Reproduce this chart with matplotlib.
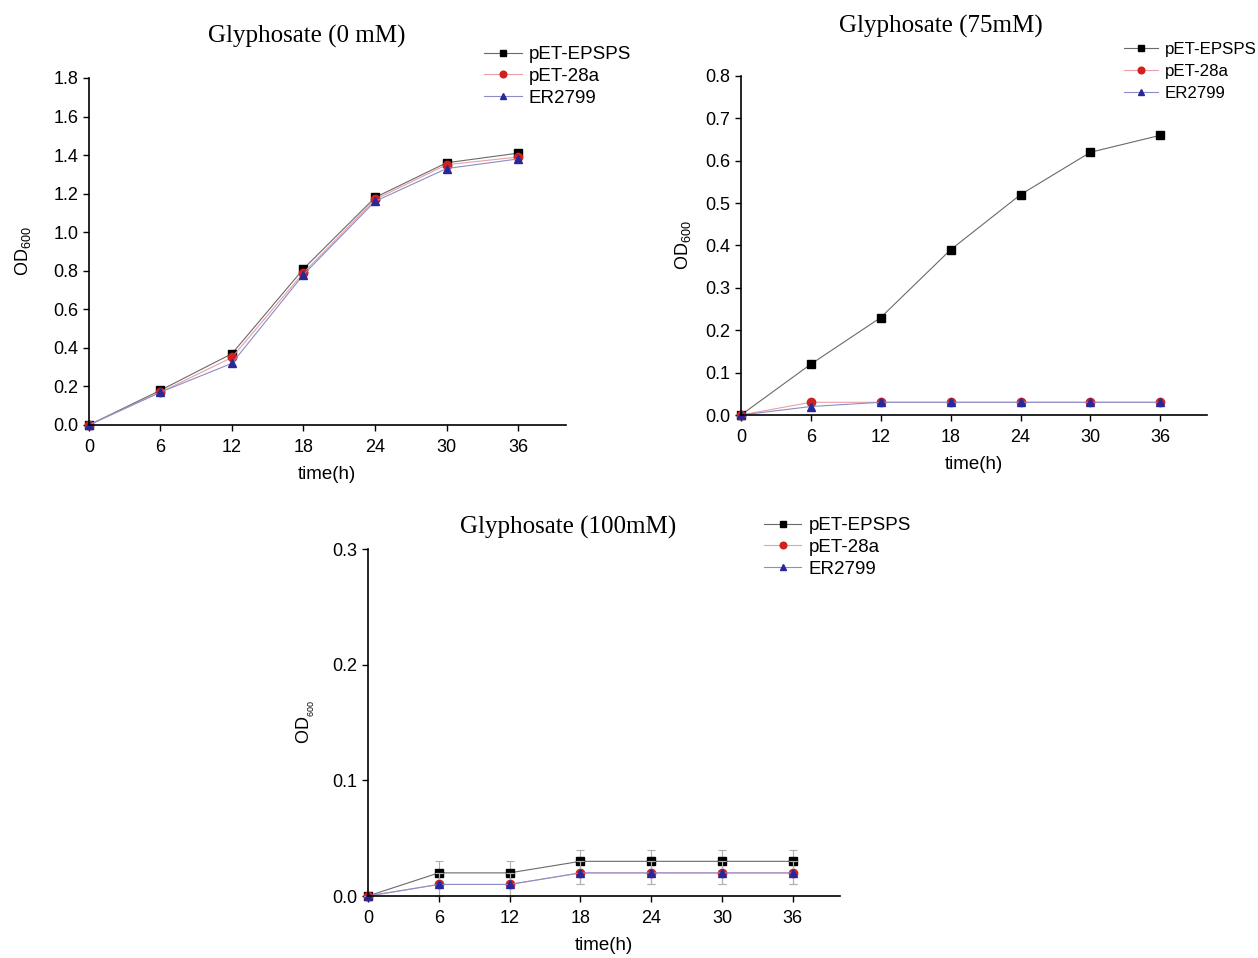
import matplotlib
matplotlib.use("Agg")
import matplotlib.pyplot as plt

plt.rcParams['font.family'] = ['Liberation Sans', 'DejaVu Sans']
plt.rcParams['mathtext.fontset'] = 'custom'
plt.rcParams['mathtext.rm'] = 'Liberation Sans'
plt.rcParams['mathtext.it'] = 'Liberation Sans:italic'
plt.rcParams['mathtext.bf'] = 'Liberation Sans:bold'

# time points (h)
time_h = [0, 6, 12, 18, 24, 30, 36]
series_names = ['pET-EPSPS', 'pET-28a', 'ER2799']

# Glyphosate 0 mM
od_0mM_epsps = [0, 0.18, 0.37, 0.81, 1.18, 1.36, 1.41]
od_0mM_28a = [0, 0.17, 0.35, 0.79, 1.17, 1.35, 1.39]
od_0mM_er = [0, 0.17, 0.32, 0.78, 1.16, 1.33, 1.38]

# Glyphosate 75 mM
od_75mM_epsps = [0, 0.12, 0.23, 0.39, 0.52, 0.62, 0.66]
od_75mM_28a = [0, 0.03, 0.03, 0.03, 0.03, 0.03, 0.03]
od_75mM_er = [0, 0.02, 0.03, 0.03, 0.03, 0.03, 0.03]

# Glyphosate 100 mM (with error bars)
od_100mM_epsps = [0, 0.02, 0.02, 0.03, 0.03, 0.03, 0.03]
od_100mM_28a = [0, 0.01, 0.01, 0.02, 0.02, 0.02, 0.02]
od_100mM_er = [0, 0.01, 0.01, 0.02, 0.02, 0.02, 0.02]
err_100mM = [0, 0.01, 0.01, 0.01, 0.01, 0.01, 0.01]

# styles: (line color, marker, marker color)
styles = [('#6a6a6a', 's', 'black'),
          ('#e8a0a8', 'o', '#d02020'),
          ('#8c8cc8', '^', '#28289a')]

fig = plt.figure(figsize=(12.58, 9.58), dpi=100)


def px(x, y):
    return (x / 1258, 1 - y / 958)


def setup_axes(ax, ymax, yticks, title, title_xy, legend_xy, ylabel_pad,
               legend_size=13.5, legend_gap=0.25, sub_small=False):
    ax.set_xlim(0, 40)
    ax.set_ylim(0, ymax)
    ax.set_xticks([0, 6, 12, 18, 24, 30, 36])
    ax.set_yticks(yticks)
    ax.set_yticklabels(['{:.1f}'.format(v) for v in yticks])
    ax.spines['top'].set_visible(False)
    ax.spines['right'].set_visible(False)
    ax.spines['left'].set_linewidth(1.2)
    ax.spines['bottom'].set_linewidth(1.2)
    ax.tick_params(direction='out', length=4, width=1, labelsize=13)
    ax.tick_params(axis='x', pad=6)
    ax.set_xlabel('time(h)', fontsize=13.5, labelpad=7)
    if sub_small:
        ax.set_ylabel(r'OD$_{\mathregular{_{600}}}$', fontsize=13, labelpad=ylabel_pad)
    else:
        ax.set_ylabel(r'OD$_{\mathregular{600}}$', fontsize=13, labelpad=ylabel_pad)
    fig.text(*title_xy, title, ha='center', va='center',
             fontsize=18, family='Liberation Serif')
    ax.legend(loc='upper left', bbox_to_anchor=legend_xy, bbox_transform=fig.transFigure,
              frameon=False, fontsize=legend_size, handlelength=2.0, handletextpad=0.4,
              labelspacing=legend_gap, borderaxespad=0, borderpad=0, markerscale=0.8)


# panel 1
ax1 = fig.add_axes([0.0707, 0.5564, 0.379, 0.3622])
for ys, (lc, mk, mc), name in zip([od_0mM_epsps, od_0mM_28a, od_0mM_er], styles, series_names):
    ax1.plot(time_h, ys, color=lc, lw=0.8, marker=mk, markersize=6,
             markerfacecolor=mc, markeredgecolor=mc, label=name, clip_on=False)
setup_axes(ax1, 1.8, [0.0, 0.2, 0.4, 0.6, 0.8, 1.0, 1.2, 1.4, 1.6, 1.8],
           'Glyphosate (0 mM)', px(307, 36), px(484, 46), 15)

# panel 2
ax2 = fig.add_axes([0.589, 0.5668, 0.3704, 0.3539])
for ys, (lc, mk, mc), name in zip([od_75mM_epsps, od_75mM_28a, od_75mM_er], styles, series_names):
    ax2.plot(time_h, ys, color=lc, lw=0.8, marker=mk, markersize=6,
             markerfacecolor=mc, markeredgecolor=mc, label=name, clip_on=False)
setup_axes(ax2, 0.8, [0.0, 0.1, 0.2, 0.3, 0.4, 0.5, 0.6, 0.7, 0.8],
           'Glyphosate (75mM)', px(941, 26), px(1124, 42), 9,
           legend_size=12.2, legend_gap=0.42)

# panel 3
ax3 = fig.add_axes([0.2925, 0.0647, 0.3752, 0.3622])
for ys, (lc, mk, mc), name in zip([od_100mM_epsps, od_100mM_28a, od_100mM_er], styles, series_names):
    ax3.errorbar(time_h, ys, yerr=err_100mM, fmt='none', ecolor='#b0b0b0',
                 elinewidth=0.8, capsize=3, capthick=0.8, clip_on=False)
    ax3.plot(time_h, ys, color=lc, lw=0.8, marker=mk, markersize=6,
             markerfacecolor=mc, markeredgecolor=mc, label=name, clip_on=False)
setup_axes(ax3, 0.3, [0.0, 0.1, 0.2, 0.3],
           'Glyphosate (100mM)', px(568, 527), px(764, 517), 11, sub_small=True)

fig.savefig('out.png', dpi=100)
